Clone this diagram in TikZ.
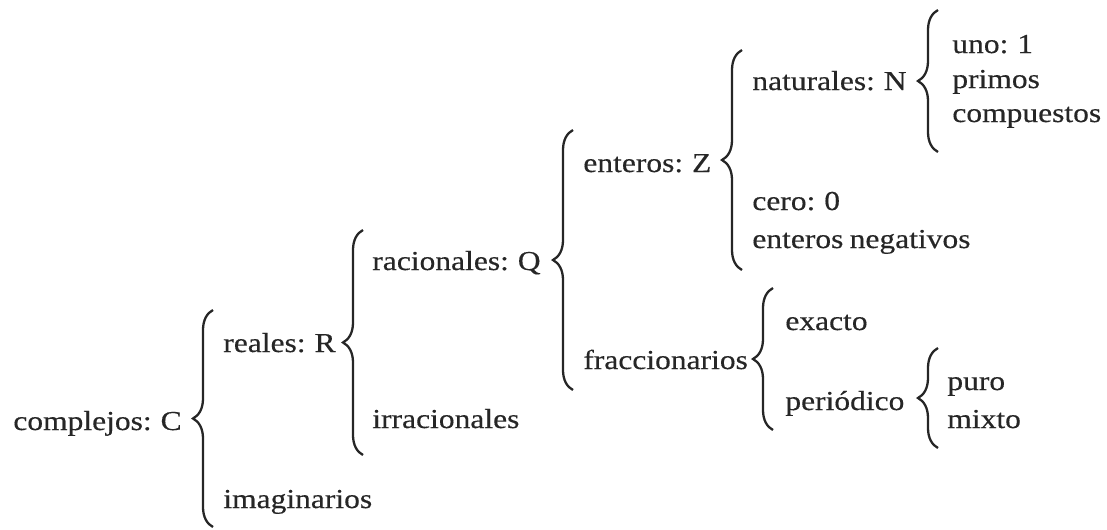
\documentclass[tikz,border=0pt]{standalone}
\usepackage{fontspec}
\setmainfont[FakeStretch=1.15, FakeBold=0.4, WordSpace=0.8]{Liberation Serif}
\usetikzlibrary{decorations.pathreplacing}
\definecolor{ink}{HTML}{262626}

\begin{document}
\begin{tikzpicture}[
  x=0.02cm, y=-0.02cm,
  every node/.style={font=\fontsize{15.6pt}{19pt}\selectfont, text=ink, inner sep=0pt},
  term/.style={anchor=base west},
  llave/.style={draw=ink, line width=1.3pt, decorate, decoration={brace, amplitude=0.4cm}}
]
\useasboundingbox (0,0) rectangle (1107,529);

% level 1
\node[term] (compl) at (13,430)  {complejos: C};
% level 2
\node[term] (real)  at (223,352) {reales: R};
\node[term] (imag)  at (223,508) {imaginarios};
% level 3
\node[term] (racio) at (372,270) {racionales: Q};
\node[term] (irrac) at (372,428) {irracionales};
% level 4
\node[term] (enter) at (583,172) {enteros: Z};
\node[term] (fracc) at (583,369) {fraccionarios};
% level 5
\node[term] (natur) at (752,90)  {naturales: N};
\node[term] (cero)  at (752,210) {cero: 0};
\node[term] (neg)   at (752,248) {enteros negativos};
\node[term] (exac)  at (785,330) {exacto};
\node[term] (perio) at (785,410) {periódico};
% level 6
\node[term] (uno)   at (952,53)  {uno: 1};
\node[term] (prim)  at (952,88)  {primos};
\node[term] (comp)  at (952,122) {compuestos};
\node[term] (puro)  at (947,390) {puro};
\node[term] (mixt)  at (947,428) {mixto};

% brace ends
\coordinate (compl-t) at (213,310);  \coordinate (compl-b) at (213,527);
\coordinate (real-t)  at (363,230);  \coordinate (real-b)  at (363,455);
\coordinate (racio-t) at (573,130);  \coordinate (racio-b) at (573,390);
\coordinate (enter-t) at (742,50);   \coordinate (enter-b) at (742,270);
\coordinate (natur-t) at (938,10);   \coordinate (natur-b) at (938,152);
\coordinate (fracc-t) at (773,288);  \coordinate (fracc-b) at (773,430);
\coordinate (perio-t) at (938,348);  \coordinate (perio-b) at (938,448);

\draw[llave] (compl-b) -- (compl-t);
\draw[llave] (real-b)  -- (real-t);
\draw[llave] (racio-b) -- (racio-t);
\draw[llave] (enter-b) -- (enter-t);
\draw[llave] (natur-b) -- (natur-t);
\draw[llave] (fracc-b) -- (fracc-t);
\draw[llave] (perio-b) -- (perio-t);
\end{tikzpicture}
\end{document}
